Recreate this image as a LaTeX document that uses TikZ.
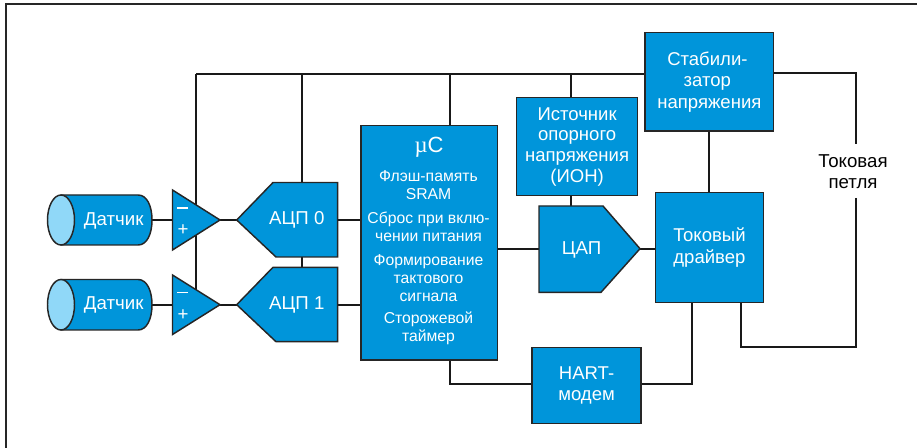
\documentclass[tikz,border=0pt]{standalone}
\usepackage{fontspec}
\setmainfont{Liberation Sans}
\newfontfamily\mufont{Liberation Serif}
\definecolor{boxblue}{HTML}{0095DA}
\definecolor{lightblue}{HTML}{90D8F8}
\tikzset{
  x=0.75pt,y=-0.75pt,
  wire/.style={draw=black!90,line width=1.5pt},
  blk/.style={draw=black!85,fill=boxblue,line width=1.1pt,line join=miter},
  rbox/.style={blk,inner sep=0pt,text=white,align=center,font=\fontsize{13.9}{16}\selectfont},
  lbl/.style={inner sep=0pt,text=white,align=center,font=\fontsize{14}{16}\selectfont},
  small/.style={font=\fontsize{11.8}{13.6}\selectfont},
}
\newcommand{\boxat}[6]{% name x1 y1 x2 y2 text
  \node[rbox,anchor=north west,minimum width={(#4-#2)*0.75pt},minimum height={(#5-#3)*0.75pt}] (#1) at (#2,#3) {#6};}
\newcommand{\sensor}[3]{% name, ytop, ybottom
  \draw[blk] (74,#2) -- (138,#2) .. controls (147,#2) and (152,{(#2+#3)/2-14}) .. (152,{(#2+#3)/2})
     .. controls (152,{(#2+#3)/2+14}) and (147,#3) .. (138,#3) -- (61,#3) -- (61,#2) -- cycle;
  \draw[draw=black!85,fill=lightblue,line width=1.1pt] (61,{(#2+#3)/2}) ellipse [x radius=13.5,y radius={(#3-#2)/2}];
  \node[lbl] at (113.7,{(#2+#3)/2+0.5}) {Датчик};
  \coordinate (#1) at (152,{(#2+#3)/2});}
\newcommand{\opamp}[4]{% name ytop ytip ybottom
  \draw[blk] (172.5,#2) -- (220,#3) -- (172.5,#4) -- cycle;
  \fill[white] (177,{#3-12.8}) rectangle (188,{#3-11.2});
  \node[lbl] at (183,{#3+10}) {+};
  \coordinate (#1in) at (172.5,#3);
  \coordinate (#1out) at (220,#3);}
\newcommand{\adc}[5]{% name ytop ytip ybottom label
  \draw[blk] (236.7,#3) -- (273,#2) -- (337.7,#2) -- (337.7,#4) -- (276,#4) -- cycle;
  \node[lbl] at (296.8,#3) {#5};
  \coordinate (#1in) at (236.7,#3);
  \coordinate (#1out) at (337.7,#3);
  \coordinate (#1top) at (302,#2);
  \coordinate (#1bot) at (302,#4);}
\begin{document}
\begin{tikzpicture}
\useasboundingbox (0,0) rectangle (917,448);
% frame
\draw[draw=black!85,line width=1.5pt] (6,448) -- (6,4.5) -- (917,4.5);
% junctions and free ends
\coordinate (bl) at (196.3,74);
\coordinate (br) at (644.3,74);
\coordinate (bus2) at (302,74);
\coordinate (bus3) at (449.6,74);
\coordinate (bus4) at (571,74);
\coordinate (blb) at (196.3,320);
\coordinate (tr) at (856.3,73);
\coordinate (loopa) at (856.3,144);
\coordinate (loopb) at (856.3,198);
\coordinate (lb) at (856.3,347);
\coordinate (lc) at (741,347);
\coordinate (hu) at (692,383.7);
\coordinate (hl) at (449.6,383.7);
% blocks
\boxat{mc}{360.3}{125}{496.7}{359.3}{}
\boxat{ion}{516}{97}{636.7}{195}{Источник\\[-0.5pt]опорного\\[-0.5pt]напряжения\\[-0.5pt](ИОН)}
\boxat{drv}{654.7}{192}{762.7}{301.7}{Токовый\\драйвер}
\boxat{stab}{644.3}{32}{773}{130.3}{\hspace*{-3pt}Стабили-\\\hspace*{-3pt}затор\\напряжения}
\boxat{hart}{531.3}{347}{640.3}{422.7}{HART-\\модем}
\coordinate (daci) at (539,248.7);
\coordinate (daco) at (640,248.7);
\coordinate (dact) at (571,206);
% wires
\draw[wire] (bl) -- (br);
\draw[wire] (bl) -- (blb);
\draw[wire] (bus2) -- (302,267.3);
\draw[wire] (bus3) -- (mc.north -| bus3);
\draw[wire] (bus4) -- (ion.north -| bus4);
\draw[wire] (ion.south -| dact) -- (dact);
\draw[wire,line join=miter] (stab.east |- tr) -- (tr) -- (loopa);
\draw[wire,line join=miter] (loopb) -- (lb) -- (lc) -- (drv.south -| lc);
\draw[wire,line join=miter] (mc.south -| hl) -- (hl) -- (hart.west |- hl);
\draw[wire,line join=miter] (hart.east |- hu) -- (hu) -- (drv.south -| hu);
\draw[wire] (152,220) -- (236.7,220);
\draw[wire] (152,304.7) -- (236.7,304.7);
\draw[wire] (337.7,220) -- (mc.west |- 0,220);
\draw[wire] (337.7,304.7) -- (mc.west |- 0,304.7);
\draw[wire] (mc.east |- daci) -- (daci);
\draw[wire] (daco) -- (drv.west |- daco);
\draw[wire] (stab.south -| drv.north) -- (drv.north);
% shapes over the wires
\sensor{s0}{195}{245}
\sensor{s1}{279.5}{330}
\opamp{a0}{190}{220}{250}
\opamp{a1}{275}{304.7}{334.5}
\adc{c0}{182.5}{220}{257}{АЦП 0}
\adc{c1}{267.3}{304.7}{341.7}{АЦП 1}
\node[lbl] at (429,147.5) {\fontsize{17}{19}\selectfont{\mufont µ}\fontsize{16.5}{19}\selectfont C};
\node[lbl,small] at (428.5,185.5) {Флэш-память\\SRAM};
\node[lbl,small] at (428.5,227) {Сброс при вклю-\\чении питания};
\node[lbl,small] at (428.5,278) {Формирование\\тактового\\сигнала};
\node[lbl,small] at (428.5,328) {Сторожевой\\таймер};
\draw[blk] (539,206) -- (603,206) -- (640,248.7) -- (601,292.3) -- (539,292.3) -- cycle;
\node[lbl] (dac) at (581.5,249.5) {ЦАП};
\node[inner sep=0pt,align=center,text=black,font=\fontsize{14}{16}\selectfont] (loop) at (853,172) {Токовая\\петля};
\end{tikzpicture}
\end{document}
